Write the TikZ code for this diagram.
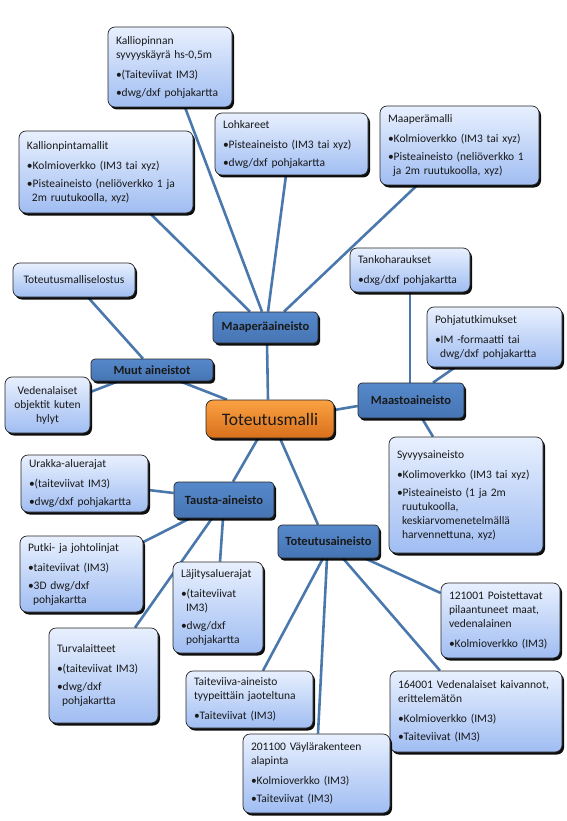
\documentclass[tikz,border=0pt]{standalone}
\usepackage{fontspec}
\setmainfont{Carlito}
\usetikzlibrary{shadows,backgrounds}
\definecolor{lnk}{HTML}{4A78AC}
\definecolor{boxtop}{HTML}{E8F0FE}
\definecolor{boxbot}{HTML}{A0BDF2}
\definecolor{cattop}{HTML}{5689CA}
\definecolor{catbot}{HTML}{4674B4}
\definecolor{ortop}{HTML}{FBA143}
\definecolor{orbot}{HTML}{D8701B}
\newcommand\contind{\hspace*{5pt}}
\begin{document}
\begin{tikzpicture}[x=1pt,y=1pt,
  base/.style={rounded corners=7pt, draw=black!85, line width=0.7pt,
    drop shadow={shadow xshift=2pt, shadow yshift=-2.5pt, opacity=0.95, fill=black}},
  cbox/.style n args={2}{base, top color=boxtop, bottom color=boxbot,
    minimum width=#1pt, minimum height=#2pt, text width=#1pt-16pt,
    inner xsep=8pt, inner ysep=0pt, align=left,
    font=\fontsize{11.5}{14}\selectfont, text=black!90},
  ccbox/.style n args={2}{cbox={#1}{#2}, align=center},
  catbox/.style n args={2}{base, rounded corners=4pt, top color=cattop, bottom color=catbot,
    minimum width=#1pt, minimum height=#2pt, inner sep=0pt,
    font=\bfseries\fontsize{12.5}{14}\selectfont, text=black!90},
  link/.style={draw=lnk, line width=2.6pt}]
\useasboundingbox (0,0) rectangle (566,-821);

% main
\node[base, top color=ortop, bottom color=orbot, minimum width=128pt, minimum height=38pt,
  inner sep=0pt, font=\fontsize{17.5}{20}\selectfont, text=black!90] (tm) at (270,-419) {Toteutusmalli};

% categories
\node[catbox={105}{31}] (ma) at (265.5,-327.5) {Maaperäaineisto};
\node[catbox={122}{22}] (mu) at (152,-370) {Muut aineistot};
\node[catbox={106}{35}] (mt) at (411,-400.5) {Maastoaineisto};
\node[catbox={100}{36}] (ta) at (224,-500) {Tausta-aineisto};
\node[catbox={101}{33}] (toa) at (328.5,-541.5) {Toteutusaineisto};

% content boxes
\node[cbox={124}{80}] (kp) at (170,-67) {Kalliopinnan\\syvyyskäyrä hs-0,5m\\[6pt]•(Taiteviivat IM3)\\[4pt]•dwg/dxf pohjakartta};
\node[cbox={153}{62}] (lo) at (291.5,-144) {Lohkareet\\[6pt]•Pisteaineisto (IM3 tai xyz)\\[4pt]•dwg/dxf pohjakartta};
\node[cbox={159}{79}] (mm) at (459.5,-145.5) {Maaperämalli\\[6pt]•Kolmioverkko (IM3 tai xyz)\\[4pt]•Pisteaineisto (neliöverkko 1\\ \contind ja 2m ruutukoolla, xyz)};
\node[cbox={174}{82}] (kpm) at (106,-172) {Kallionpintamallit\\[6pt]•Kolmioverkko (IM3 tai xyz)\\[4pt]•Pisteaineisto (neliöverkko 1 ja\\ \contind 2m ruutukoolla, xyz)};
\node[ccbox={122}{34}] (tms) at (74,-280) {Toteutusmalliselostus};
\node[ccbox={85}{56}] (ve) at (47.5,-405) {Vedenalaiset\\objektit kuten\\hylyt};
\node[cbox={120}{44}] (th) at (410,-270) {Tankoharaukset\\[6pt]•dxg/dxf pohjakartta};
\node[cbox={135}{60}] (pt) at (494.5,-337) {Pohjatutkimukset\\[6pt]•IM -formaatti tai\\ \contind dwg/dxf pohjakartta};
\node[cbox={154}{116}] (sy) at (466,-495) {Syvyysaineisto\\[6pt]•Kolimoverkko (IM3 tai xyz)\\[4pt]•Pisteaineisto (1 ja 2m\\ \contind ruutukoolla,\\ \contind keskiarvomenetelmällä\\ \contind harvennettuna, xyz)};
\node[cbox={127}{57}] (ur) at (84.5,-483.5) {Urakka-aluerajat\\[6pt]•(taiteviivat IM3)\\[4pt]•dwg/dxf pohjakartta};
\node[cbox={123}{76}] (pu) at (81.5,-574) {Putki- ja johtolinjat\\[6pt]•taiteviivat (IM3)\\[4pt]•3D dwg/dxf\\ \contind pohjakartta};
\node[cbox={90}{91}] (la) at (218,-607.5) {Läjitysaluerajat\\[6pt]•(taiteviivat\\ \contind IM3)\\[4pt]•dwg/dxf\\ \contind pohjakartta};
\node[cbox={109}{95}] (tu) at (103.5,-675.5) {Turvalaitteet\\[6pt]•(taiteviivat IM3)\\[4pt]•dwg/dxf\\ \contind pohjakartta};
\node[cbox={119}{75}] (p121) at (500.5,-620.5) {121001 Poistettavat\\pilaantuneet maat,\\vedenalainen\\[6pt]•Kolmioverkko (IM3)};
\node[cbox={127}{57}] (tv) at (249.5,-699.5) {Taiteviiva-aineisto\\tyypeittäin jaoteltuna\\[6pt]•Taiteviivat (IM3)};
\node[cbox={172}{81}] (p164) at (476,-711.5) {164001 Vedenalaiset kaivannot,\\erittelemätön\\[6pt]•Kolmioverkko (IM3)\\[4pt]•Taiteviivat (IM3)};
\node[cbox={147}{79}] (p201) at (316.5,-773.5) {201100 Väylärakenteen\\alapinta\\[6pt]•Kolmioverkko (IM3)\\[4pt]•Taiteviivat (IM3)};

\begin{pgfonlayer}{background}
\draw[link] ([xshift=44pt]kpm.south) -- ([xshift=-15.5pt]ma.north);
\draw[link] ([xshift=15pt]kp.south) -- ([xshift=-3.5pt]ma.north);
\draw[link] ([xshift=-5.5pt]lo.south) -- ([xshift=2.5pt]ma.north);
\draw[link] ([xshift=-42.5pt]mm.south) -- ([xshift=18.5pt]ma.north);
\draw[link] ([xshift=1.5pt]ma.south) -- ([xshift=-2pt]tm.north);
\draw[link] ([xshift=14pt]tms.south) -- ([xshift=-9pt]mu.north);
\draw[link] ([yshift=13pt]ve.east) -- ([xshift=-34pt]mu.south);
\draw[link] ([xshift=28pt]mu.south) -- ([xshift=-43pt]tm.north);
\draw[link] ([yshift=9pt]tm.east) -- ([yshift=-5.5pt]mt.west);
\draw[link] (th.south) -- ([xshift=-1pt]mt.north);
\draw[link] ([xshift=-39.5pt]pt.south) -- ([xshift=22pt]mt.north);
\draw[link] ([xshift=11pt]mt.south) -- ([xshift=-33pt]sy.north);
\draw[link] ([xshift=-12pt]tm.south) -- ([xshift=9pt]ta.north);
\draw[link] ([xshift=10pt]tm.south) -- ([xshift=-10.5pt]toa.north);
\draw[link] ([yshift=-6.5pt]ur.east) -- ([yshift=7pt]ta.west);
\draw[link] ([xshift=-34pt]ta.south) -- ([yshift=32pt]pu.east);
\draw[link] ([xshift=-12pt]ta.south) -- ([xshift=31.5pt]tu.north);
\draw[link] ([xshift=-1pt]ta.south) -- ([xshift=2pt]la.north);
\draw[link] ([xshift=36.5pt]toa.south) -- ([yshift=27.5pt]p121.west);
\draw[link] ([xshift=-5.5pt]toa.south) -- ([xshift=13.5pt]tv.north);
\draw[link] ([xshift=-1.5pt]toa.south) -- ([xshift=1.5pt]p201.north);
\draw[link] ([xshift=14.5pt]toa.south) -- ([xshift=-36pt]p164.north);
\end{pgfonlayer}
\end{tikzpicture}
\end{document}
